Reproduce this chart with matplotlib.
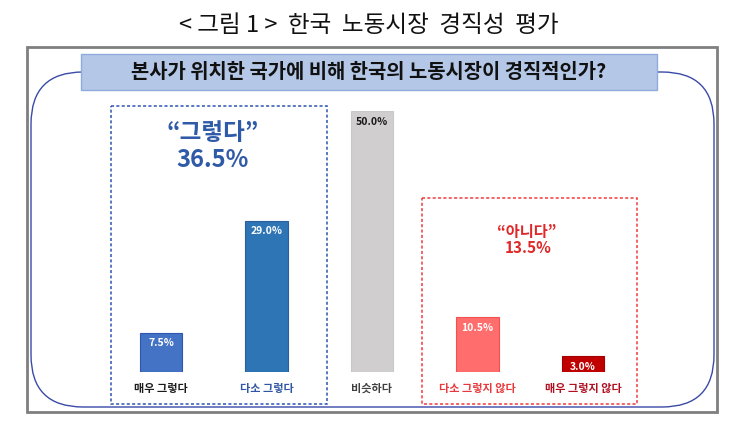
import matplotlib
matplotlib.use("Agg")
import matplotlib.pyplot as plt
from matplotlib.patches import Rectangle, FancyBboxPatch

plt.rcParams['font.family'] = ['Noto Sans CJK KR', 'DejaVu Sans']

categories = ['매우 그렇다', '다소 그렇다', '비슷하다', '다소 그렇지 않다', '매우 그렇지 않다']
values = [7.5, 29.0, 50.0, 10.5, 3.0]
value_labels = ['7.5%', '29.0%', '50.0%', '10.5%', '3.0%']
bar_colors = ['#4472c4', '#2e75b6', '#d0cece', '#ff6d6d', '#c00000']
edge_colors = ['#2f55b0', '#2a5f9a', '#c8c8c8', '#f05050', '#a00000']
label_colors = ['#1a1a1a', '#2f55a4', '#404040', '#e8383d', '#b01020']
value_colors = ['white', 'white', '#1a1a1a', 'white', 'white']

title = '< 그림 1 >  한국  노동시장  경직성  평가'
question = '본사가 위치한 국가에 비해 한국의 노동시장이 경직적인가?'
yes_label, yes_total = '“그렇다”', '36.5%'
no_label, no_total = '“아니다”', '13.5%'

W, H = 730, 442
fig = plt.figure(figsize=(W / 100, H / 100), dpi=100)

# overlay in pixel coords for frames and boxes
deco = fig.add_axes([0, 0, 1, 1], zorder=0)
deco.set_xlim(0, W)
deco.set_ylim(H, 0)
deco.axis('off')

deco.text(369, 25, title, ha='center', va='center', fontsize=17, color='#111111')
deco.add_patch(Rectangle((27, 47), 690, 365, fill=False, ec='#7f7f7f', lw=2))
deco.add_patch(FancyBboxPatch((31, 72), 683, 335, boxstyle='round,pad=0,rounding_size=52',
                              fill=False, ec='#3a4aa8', lw=1))
deco.add_patch(Rectangle((81, 54), 576, 36, fc='#b4c7e7', ec='#8faadc', lw=1, zorder=3))
deco.text(369, 72, question, ha='center', va='center', fontsize=14.3, fontweight='bold',
          color='#111111', zorder=4)

deco.add_patch(Rectangle((111, 106), 216, 298, fill=False, ec='#2f55b0', lw=1.1, ls=(0, (2, 1.5))))
deco.add_patch(Rectangle((422, 198), 215, 206, fill=False, ec='#f03a3a', lw=1.1, ls=(0, (2, 1.5))))
deco.text(213, 133, yes_label, ha='center', va='center', fontsize=17, fontweight='bold', color='#2f5aa8')
deco.text(213, 160, yes_total, ha='center', va='center', fontsize=17, fontweight='bold', color='#2f5aa8')
deco.text(527, 232, no_label, ha='center', va='center', fontsize=11, fontweight='bold', color='#e02828')
deco.text(528, 248, no_total, ha='center', va='center', fontsize=11, fontweight='bold', color='#e02828')

# bar axes: centers 161..583 px, y 0 at 372 px, 50 at 111 px
step = 105.5
left = 161 - step / 2
ax = fig.add_axes([left / W, (H - 372) / H, 5 * step / W, 261 / H], zorder=1)
ax.patch.set_visible(False)
x = range(len(values))
ax.bar(x, values, width=0.4, color=bar_colors, edgecolor=edge_colors, linewidth=0.8)
ax.set_xlim(-0.5, 4.5)
ax.set_ylim(0, 50)
for s in ax.spines.values():
    s.set_visible(False)
ax.set_yticks([])
ax.set_xticks(list(x))
ax.set_xticklabels(categories, fontsize=8, fontweight='bold')
ax.tick_params(axis='x', length=0, pad=7)
for t, c in zip(ax.get_xticklabels(), label_colors):
    t.set_color(c)
for i, v in enumerate(values):
    ax.annotate(value_labels[i], (i, v), xytext=(0, -4), textcoords='offset points',
                ha='center', va='top', fontsize=7.5, fontweight='bold', color=value_colors[i])

fig.savefig('out.png', dpi=100)
